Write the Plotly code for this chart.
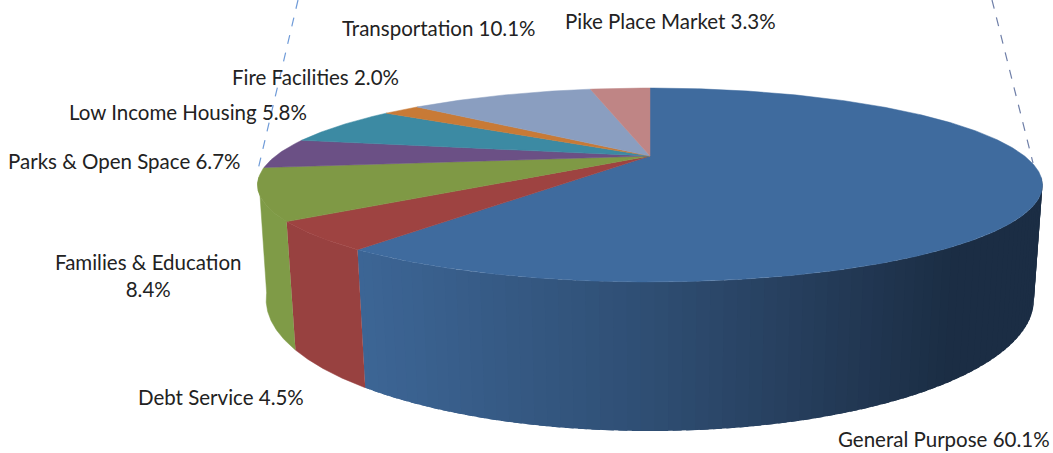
import numpy as np
import plotly.graph_objects as go

# Data
categories = ["General Purpose", "Debt Service", "Families & Education", "Parks & Open Space",
              "Low Income Housing", "Fire Facilities", "Transportation", "Pike Place Market"]
printed_percent = [60.1, 4.5, 8.4, 6.7, 5.8, 2.0, 10.1, 3.3]   # as written on the labels
drawn_share = [60.1, 4.5, 8.4, 5.0, 6.6, 2.0, 10.1, 3.3]       # as measured from the slices

# Styles
top_colors = ["#3F6B9E", "#9E4341", "#7F9945", "#6B5085", "#3C8AA3", "#C87A36", "#8A9EC0", "#BF8585"]
side_colors = [None, "#984140", "#7F9B47", None, None, None, None, None]
blue_stops_x = [358, 650, 800, 950, 1040]
blue_stops_rgb = [(61, 102, 150), (47, 78, 115), (38, 62, 92), (27, 45, 68), (27, 45, 68)]

# Label layout: (centre x, centre y)
label_pos = [(944, 439), (221, 397), (148, 275), (124, 161), (188, 112), (315, 77), (439, 28), (670, 21)]
FONT = dict(family="Lato, sans-serif", size=20.5, color="#222222")

# Projection of the disc (perspective view)
CX = 650
TOP = dict(A=374.5, B=88.3, k=0.299, y0=156.0)
BOT = dict(A=367.0, B=120.0, k=0.293, y0=261.3)


def proj(theta_deg, plane):
    t = np.radians(theta_deg)
    u, v = np.sin(t), -np.cos(t)
    d = 1 - plane["k"] * v
    return CX + plane["A"] * u / d, plane["y0"] + plane["B"] * v / d


def poly(xs, ys, color, lw=0):
    return go.Scatter(x=list(xs), y=list(ys), mode="lines", fill="toself", fillcolor=color,
                      line=dict(color=color, width=lw), hoverinfo="skip", showlegend=False)


fig = go.Figure()
edges = np.concatenate([[0], np.cumsum(drawn_share)]) / sum(drawn_share) * 360
VIS_LO, VIS_HI = 103.0, 257.0

# Side wall
for i in range(len(categories)):
    a, b = max(edges[i], VIS_LO), min(edges[i + 1], VIS_HI)
    if b <= a:
        continue
    if side_colors[i]:
        th = np.linspace(a, b, 60)
        tx, ty = proj(th, TOP)
        bx, by = proj(th[::-1], BOT)
        fig.add_trace(poly(np.r_[tx, bx], np.r_[ty, by], side_colors[i], 0.5))
    else:
        th = np.arange(a, b, 1.5)
        for t0 in th:
            t1 = min(t0 + 2.5, b)
            seg = np.linspace(t0, t1, 4)
            sx0, sy0 = proj(seg, TOP)
            sx1, sy1 = proj(seg[::-1], BOT)
            mx = (sx0.mean() + sx1.mean()) / 2
            rgb = [np.interp(mx, blue_stops_x, [c[j] for c in blue_stops_rgb]) for j in range(3)]
            col = "rgb(%d,%d,%d)" % tuple(int(c) for c in rgb)
            fig.add_trace(poly(np.r_[sx0, sx1], np.r_[sy0, sy1], col))

# Top face
for i in range(len(categories)):
    th = np.linspace(edges[i], edges[i + 1], max(int(edges[i + 1] - edges[i]) * 2, 6))
    x, y = proj(th, TOP)
    fig.add_trace(poly(np.r_[CX, x, CX], np.r_[TOP["y0"], y, TOP["y0"]], top_colors[i], 0.5))

# Labels
for i, name in enumerate(categories):
    text = f"{name} {printed_percent[i]:.1f}%"
    if name == "Families & Education":
        text = f"{name}<br>{printed_percent[i]:.1f}%"
    fig.add_annotation(x=label_pos[i][0], y=label_pos[i][1], text=text, showarrow=False,
                       font=FONT, xanchor="center", yanchor="middle", align="center")

# Dashed leader lines
fig.add_shape(type="line", x0=298, y0=0, x1=257, y1=174, line=dict(color="#6F9BD8", width=1.2, dash="dash"))
fig.add_shape(type="line", x0=992, y0=0, x1=1033, y1=163, line=dict(color="#6F7FA8", width=1.2, dash="dash"))

fig.update_layout(width=1053, height=453, margin=dict(l=0, r=0, t=0, b=0),
                  paper_bgcolor="white", plot_bgcolor="white", showlegend=False,
                  xaxis=dict(range=[0, 1053], visible=False, fixedrange=True),
                  yaxis=dict(range=[453, 0], visible=False, fixedrange=True))
fig.write_html("out.html", post_script="document.body.style.margin='0';document.body.style.overflow='hidden';",
               config=dict(displayModeBar=False))
